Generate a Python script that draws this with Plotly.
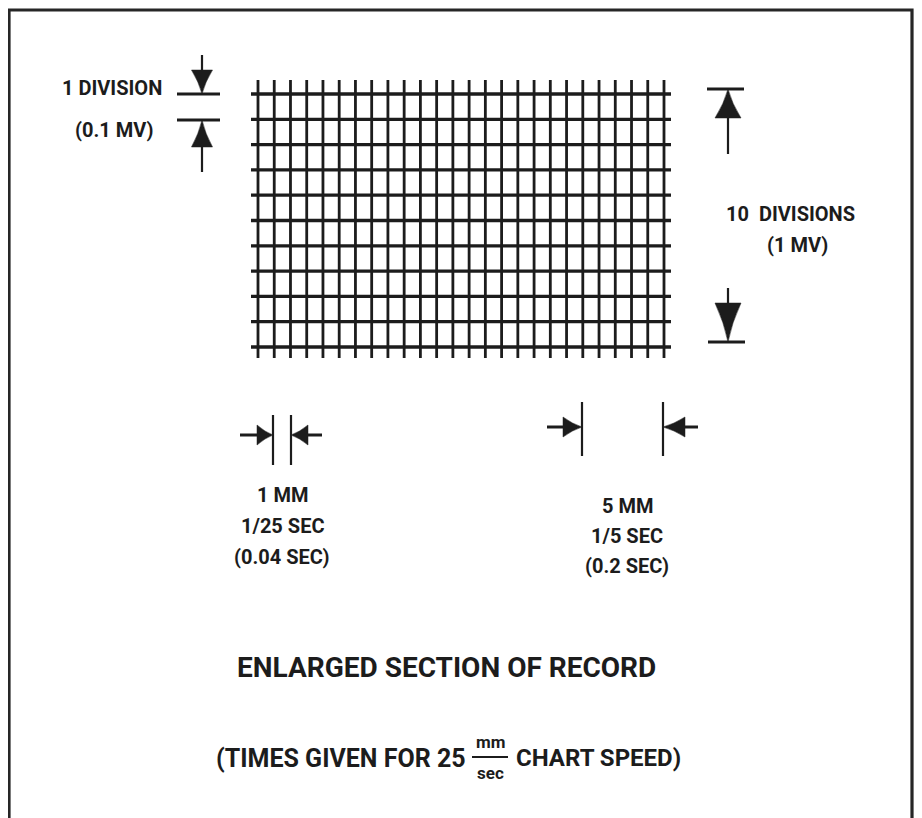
import plotly.graph_objects as go

# ---------------- data ----------------
MM_COLUMNS = 25          # 1 mm columns across the enlarged record
MV_DIVISIONS = 10        # 0.1 mV divisions vertically (10 = 1 mV)
col_index = list(range(MM_COLUMNS + 1))
row_index = list(range(MV_DIVISIONS + 1))

left_labels = ["1 DIVISION", "(0.1 MV)"]
right_labels = ["10  DIVISIONS", "(1 MV)"]
small_labels = ["1 MM", "1/25 SEC", "(0.04 SEC)"]
large_labels = ["5 MM", "1/5 SEC", "(0.2 SEC)"]
title_text = "ENLARGED SECTION OF RECORD"
note_left = "(TIMES GIVEN FOR 25"
note_num = "mm"
note_den = "sec"
note_right = "CHART SPEED)"

# ---------------- layout geometry (pixels) ----------------
W, H = 922, 818
OFF = 8  # page body margin
INK = "#1c1c1c"
FONT = "Roboto, Liberation Sans, Arial, sans-serif"

GX0, GDX = 258, 16.24
GY0, GDY = 94, 25.3
V_TOP, V_BOT = 80, 358
H_LEFT, H_RIGHT = 251, 671

fig = go.Figure()

# grid vertical lines
xs, ys = [], []
for c in col_index:
    x = GX0 + c * GDX
    xs += [x, x, None]
    ys += [V_TOP, V_BOT, None]
fig.add_trace(go.Scatter(x=xs, y=ys, mode="lines", line=dict(color=INK, width=2.8),
                         hoverinfo="skip", showlegend=False))
# grid horizontal lines
xs, ys = [], []
for r in row_index:
    y = GY0 + r * GDY
    xs += [H_LEFT, H_RIGHT, None]
    ys += [y, y, None]
fig.add_trace(go.Scatter(x=xs, y=ys, mode="lines", line=dict(color=INK, width=3.3),
                         hoverinfo="skip", showlegend=False))

shapes = []


def line(x0, y0, x1, y1, w=2.2):
    shapes.append(dict(type="line", xref="x", yref="y", x0=x0, y0=y0, x1=x1, y1=y1,
                       line=dict(color=INK, width=w)))


def vhead(cx, tip, base, w):
    h = tip - base
    p = (f"M {cx-w},{base} L {cx+w},{base} "
         f"Q {cx+w*0.3},{base+h*0.5} {cx},{tip} "
         f"Q {cx-w*0.3},{base+h*0.5} {cx-w},{base} Z")
    shapes.append(dict(type="path", xref="x", yref="y", path=p,
                       fillcolor=INK, line=dict(color=INK, width=0.5)))


def hhead(cy, tip, base, w):
    h = tip - base
    p = (f"M {base},{cy-w} L {base},{cy+w} "
         f"Q {base+h*0.5},{cy+w*0.3} {tip},{cy} "
         f"Q {base+h*0.5},{cy-w*0.3} {base},{cy-w} Z")
    shapes.append(dict(type="path", xref="x", yref="y", path=p,
                       fillcolor=INK, line=dict(color=INK, width=0.5)))


# border (left, top, right)
shapes.append(dict(type="path", xref="x", yref="y",
                   path="M 9,840 L 9,10 L 912,10 L 912,840",
                   line=dict(color="#262626", width=3.2)))

# left "1 division" markers
cx = 202
line(cx, 55, cx, 72)
vhead(cx, 94, 70, 10.5)
line(177, 94, 220, 94, 3)
line(177, 120, 220, 120, 3)
vhead(cx, 120, 147, 10.5)
line(cx, 145, cx, 172)

# right "10 divisions" markers
cx = 728
line(707, 89, 744, 89, 3)
vhead(cx, 89, 118, 13)
line(cx, 116, cx, 154)
line(cx, 288, cx, 305)
vhead(cx, 342, 303, 13)
line(708, 342, 745, 342, 3)

# bottom-left 1 mm markers
cy = 435
line(273, 415, 273, 465)
line(291, 415, 291, 465)
line(240, cy, 259, cy, 3)
hhead(cy, 273, 257, 10)
line(306, cy, 322, cy, 3)
hhead(cy, 291, 308, 10)

# bottom-right 5 mm markers
cy = 427
line(582, 402, 582, 456)
line(663, 402, 663, 456)
line(547, cy, 565, cy, 3)
hhead(cy, 582, 563, 10)
line(683, cy, 698, cy, 3)
hhead(cy, 663, 685, 10)

# fraction bar
line(472, 757, 508, 757, 2)

ann = []


def text(x, y, s, size, xanchor="center", bold=True):
    ann.append(dict(x=x, y=y, xref="x", yref="y", text=(f"<b>{s}</b>" if bold else s),
                    showarrow=False, xanchor=xanchor, yanchor="middle",
                    font=dict(family=FONT, size=size, color=INK)))


text(112, 88, left_labels[0], 20)
text(114, 130, left_labels[1], 20)
text(790, 214, right_labels[0], 20)
text(797, 245, right_labels[1], 20)
for i, s in enumerate(small_labels):
    text(282, 495 + i * 31, s, 20)
for i, s in enumerate(large_labels):
    text(627, 506 + i * 30, s, 20)
text(446, 667, title_text, 28)
text(468, 758, note_left, 25, xanchor="right")
text(490, 742, note_num, 17)
text(490, 773, note_den, 17)
text(514, 758, note_right, 24, xanchor="left")

fig.update_layout(
    width=W, height=H, margin=dict(l=0, r=0, t=0, b=0),
    paper_bgcolor="white", plot_bgcolor="white",
    shapes=shapes, annotations=ann,
    xaxis=dict(range=[OFF, W + OFF], visible=False, fixedrange=True),
    yaxis=dict(range=[H + OFF, OFF], visible=False, fixedrange=True),
)
fig.write_html("out.html")
